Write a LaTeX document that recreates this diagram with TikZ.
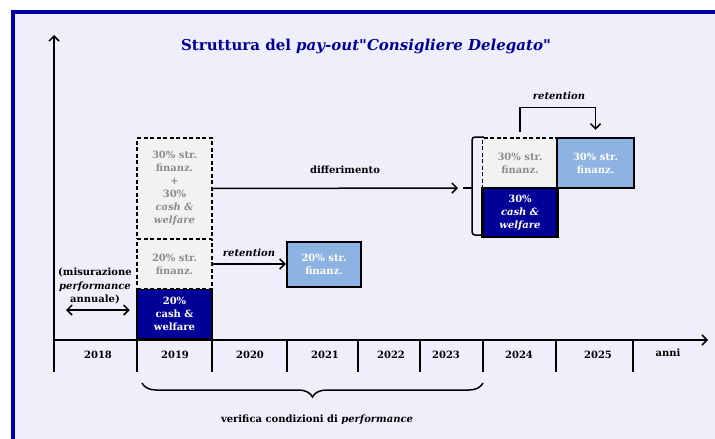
\documentclass[tikz,border=0pt]{standalone}
\usepackage{fontspec}
\setmainfont{DejaVu Serif}
\newfontfamily\dritto{DejaVu Serif}[Ligatures=TeXOff]
\usetikzlibrary{arrows.meta,decorations.pathreplacing}
\definecolor{fondo}{HTML}{EFEFFC}
\definecolor{cornice}{HTML}{0000A8}
\definecolor{blu}{HTML}{000099}
\definecolor{azzurro}{HTML}{8DB3E2}
\definecolor{grigio}{HTML}{F2F2F2}
\definecolor{testogrigio}{HTML}{8C8C8C}
\tikzset{
  cella/.style={minimum width=75pt, minimum height=50pt, inner sep=0pt, align=center,
    font=\fontsize{10}{13}\selectfont\bfseries},
  differito/.style={cella, draw=black, dash pattern=on 4pt off 2.5pt, line width=1.5pt,
    fill=grigio, text=testogrigio},
  pagato/.style={cella, draw=black, line width=2.5pt, fill=blu, text=white},
  trattenuto/.style={cella, draw=black, line width=2.5pt, fill=azzurro, text=white},
  freccia/.style={line width=1.5pt, -{Straight Barb[length=5pt,width=10pt]}},
  etichetta/.style={font=\fontsize{10}{13.5}\selectfont\bfseries, inner sep=1pt, align=center},
  corsivo/.style={etichetta, font=\fontsize{10}{12}\selectfont\bfseries\itshape},
}
\begin{document}
\begin{tikzpicture}[x=1pt,y=-1pt]
\useasboundingbox (0,0) rectangle (715,439);
% sfondo e cornice
\fill[fondo] (13,12) rectangle (715,439);
\draw[cornice, line width=4pt] (13,439) -- (13,12) -- (715,12);

\node[font=\fontsize{15}{18}\selectfont\bfseries, text=blu] (titolo) at (366,46)
  {Struttura del \textit{pay-out}{\dritto"}\textit{Consigliere Delegato}{\dritto"}};

% assi
\coordinate (base) at (54,372);
\coordinate (cima) at (54,35);
\coordinate (zero) at (54,340);
\coordinate (fine) at (708,340);
\draw[freccia] (base) -- (cima);
\draw[freccia] (zero) -- (fine);
\foreach \x in {137,212,287,358,420,483,556,633}{
  \draw[line width=1.5pt] (\x,340) -- (\x,372);
}
\foreach \x/\a in {98/2018,175/2019,250/2020,325/2021,391/2022,446/2023,519/2024,598/2025}{
  \node[etichetta] (a\a) at (\x,355) {\a};
}
\node[etichetta] (anni) at (668,353) {anni};

% 2019
\node[pagato] (c19) at (174.5,314) {20\%\\cash \&\\welfare};
\node[differito, minimum height=49pt] (s19) at (174.5,264) {20\% str.\\finanz.};
\node[differito, minimum height=101pt] (d19) at (174.5,188.5)
  {30\% str.\\finanz.\\+\\30\%\\\textit{cash \&}\\\textit{welfare}};
% 2021
\node[trattenuto, minimum width=74pt, minimum height=45pt] (t21) at (324,264.5) {20\% str.\\finanz.};
% 2024 - 2025
\node[differito] (s24) at (520,163) {30\% str.\\finanz.};
\node[pagato, minimum height=49pt] (c24) at (520,212.5) {30\%\\\textit{cash \&}\\\textit{welfare}};
\node[trattenuto, minimum width=77pt] (t25) at (595.5,163) {30\% str.\\finanz.};

% frecce
\draw[freccia] (s19.east) -- (s19.east -| t21.west);
\node[corsivo] (ret1) at (249,253) {retention};

\draw[line width=1.5pt, rounded corners=3pt] (484,137) -- (472,137) -- (472,235) -- (484,235);
\coordinate (graffa) at (463,188);
\draw[line width=1.5pt] (472,188) -- (graffa);
\draw[freccia, shorten >=5pt] (d19.east) -- (graffa);
\node[etichetta] (diff) at (345,170) {differimento};

\draw[freccia, shorten <=5pt, shorten >=7pt] (s24.north) -- ++(0,-30) -| (t25.north);
\node[corsivo] (ret2) at (559,96) {retention};

\coordinate (mis) at (66,310);
\draw[line width=1.5pt, {Straight Barb[length=5pt,width=10pt]}-{Straight Barb[length=5pt,width=10pt]},
  shorten >=6pt] (mis) -- (mis -| c19.west);
\node[etichetta] (misura) at (95,286) {(misurazione\\\textit{performance}\\annuale)};

\draw[decorate, decoration={brace, mirror, amplitude=14pt}, line width=1.5pt] (142,383) -- (483,383);
\node[etichetta] (verifica) at (317,420) {verifica condizioni di \textit{performance}};
\end{tikzpicture}
\end{document}
